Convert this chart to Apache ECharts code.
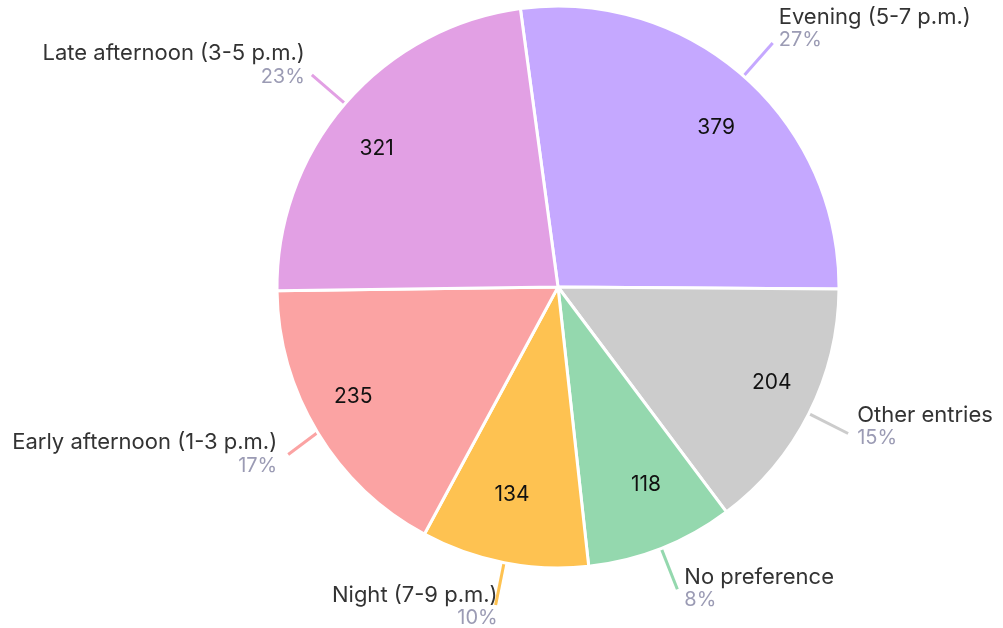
<!DOCTYPE html>
<html>
<head>
<meta charset="utf-8">
<script src="https://cdn.jsdelivr.net/npm/echarts@6/dist/echarts.min.js"></script>
<style>
  html, body { margin: 0; padding: 0; background: #fff; }
  #chart { width: 1003px; height: 628px; }
</style>
</head>
<body>
<div id="chart"></div>
<script>
const categories = ["Evening (5-7 p.m.)", "Other entries", "No preference", "Night (7-9 p.m.)", "Early afternoon (1-3 p.m.)", "Late afternoon (3-5 p.m.)"];
const values = [379, 204, 118, 134, 235, 321];
const colors = ["#c5a8ff", "#cccccc", "#94d8ae", "#fec251", "#fba3a3", "#e2a0e4"];
// small nudges of outside labels (px)
const labelNudgeX = [-3, 0, -2, 11, -2, 2];
const labelNudgeY = [-15, -7, -1, 1, -1, -10];

const total = values.reduce((a, b) => a + b, 0);
const cx = 558, cy = 287;

const chart = echarts.init(document.getElementById("chart"));
const option = {
  animation: false,
  textStyle: { fontFamily: "Inter" },
  series: [
    {
      name: "outer",
      type: "pie",
      center: [cx, cy],
      radius: 281,
      startAngle: 97.7,
      clockwise: true,
      itemStyle: { borderColor: "#fff", borderWidth: 3 },
      label: {
        show: true,
        position: "outside",
        formatter: p => "{n|" + p.name + "}\n{p|" + Math.round(p.value / total * 100) + "%}",
        rich: {
          n: { fontSize: 22, color: "#333", lineHeight: 24, fontFamily: "Inter" },
          p: { fontSize: 20, color: "#9b9bb4", lineHeight: 22, fontFamily: "Inter" }
        },
        distanceToLabelLine: 9
      },
      labelLine: { show: true, length: 44, length2: 0, smooth: false },
      labelLayout: p => ({ dx: labelNudgeX[p.dataIndex], dy: labelNudgeY[p.dataIndex] }),
      data: categories.map((name, i) => ({
        name: name,
        value: values[i],
        itemStyle: { color: colors[i] },
        labelLine: { lineStyle: { color: colors[i], width: 3 } }
      }))
    },
    {
      name: "inner",
      type: "pie",
      center: [cx, cy],
      radius: [169, 281],
      startAngle: 97.7,
      clockwise: true,
      silent: true,
      itemStyle: { color: "transparent", borderWidth: 0 },
      label: {
        show: true,
        position: "inside",
        formatter: "{c}",
        color: "#111",
        fontSize: 21,
        fontFamily: "Inter"
      },
      labelLine: { show: false },
      labelLayout: p => {
        const lx = p.labelRect.x + p.labelRect.width / 2;
        const ly = p.labelRect.y + p.labelRect.height / 2;
        return { x: cx + (lx - cx) * 1.05, y: cy + (ly - cy) * 0.93, align: "center", verticalAlign: "middle" };
      },
      data: categories.map((name, i) => ({ name: name, value: values[i] }))
    }
  ]
};
chart.setOption(option);
</script>
</body>
</html>
